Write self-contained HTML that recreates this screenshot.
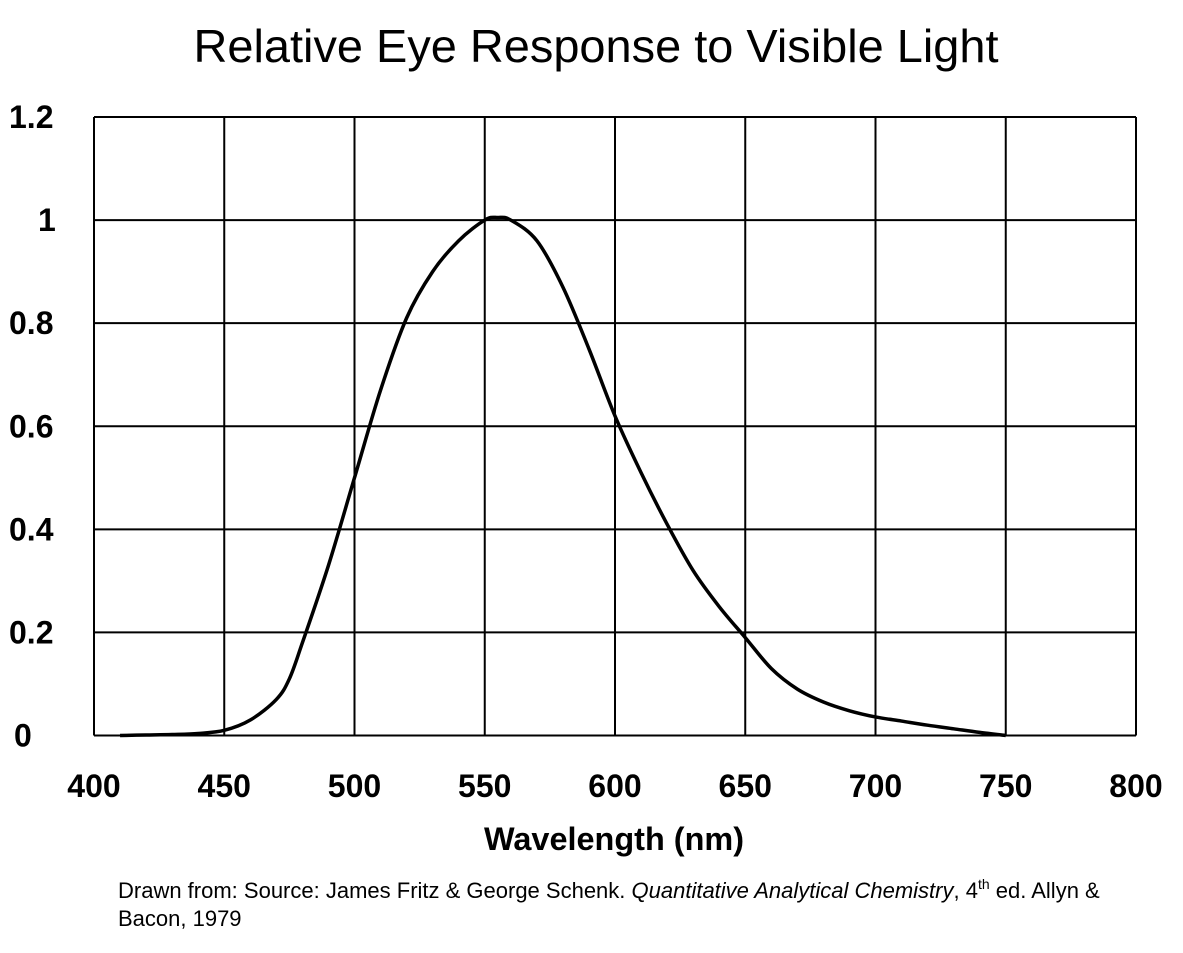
<!DOCTYPE html>
<html><head><meta charset="utf-8"><style>
body{margin:0;background:#fff;width:1183px;height:948px;overflow:hidden;font-family:"Liberation Sans",sans-serif}
</style></head><body>
<svg width="1183" height="948" id="c">
<text x="596" y="62" text-anchor="middle" font-size="46" font-family="Liberation Sans" textLength="805" lengthAdjust="spacingAndGlyphs">Relative Eye Response to Visible Light</text>
<g id="grid"></g>
<g id="xt"></g>
<g id="yt"></g>
<text x="614" y="850" text-anchor="middle" font-size="32" font-weight="bold" textLength="260" lengthAdjust="spacingAndGlyphs">Wavelength (nm)</text>
<text x="118" y="898" font-size="22">Drawn from: Source: James Fritz &amp; George Schenk. <tspan font-style="italic">Quantitative Analytical Chemistry</tspan>, 4<tspan font-size="14" dy="-9">th</tspan><tspan dy="9"> ed. Allyn &amp;</tspan></text>
<text x="118" y="926" font-size="22">Bacon, 1979</text>
</svg>
<script>
const xTicks=[400,450,500,550,600,650,700,750,800];
const yTicks=[0,0.2,0.4,0.6,0.8,1,1.2];
const yTickLabels=["0","0.2","0.4","0.6","0.8","1","1.2"];
const wavelengths=[410,420,430,440,450,460,470,475,480,490,500,510,520,530,540,550,555,560,570,580,590,600,610,620,630,640,650,660,670,680,690,700,710,720,730,740,750];
const response=[0,0.001,0.002,0.004,0.01,0.03,0.07,0.11,0.18,0.33,0.5,0.67,0.81,0.9,0.96,1.0,1.005,1.0,0.96,0.87,0.75,0.62,0.51,0.41,0.32,0.25,0.19,0.13,0.09,0.065,0.048,0.036,0.028,0.02,0.013,0.006,0];
const X=v=>94+(v-400)/400*1042;
const Y=v=>735.5-v/1.2*618.5;
const ns="http://www.w3.org/2000/svg";
const svg=document.getElementById('c');
function mk(t,a,p){const e=document.createElementNS(ns,t);for(const k in a)e.setAttribute(k,a[k]);p.appendChild(e);return e;}
const g=document.getElementById('grid'),xt=document.getElementById('xt'),yt=document.getElementById('yt');
xTicks.forEach(v=>{const l=mk('line',{x1:X(v),x2:X(v),y1:Y(1.2),y2:Y(0),stroke:'#000','stroke-width':2},g);


const t=mk('text',{x:X(v),y:797,'text-anchor':'middle','font-size':32,'font-weight':'bold'},xt);t.textContent=v;

});
yTicks.forEach((v,i)=>{const l=mk('line',{x1:X(400),x2:X(800),y1:Y(v),y2:Y(v),stroke:'#000','stroke-width':2},g);


const lab=yTickLabels[i];
const t=mk('text',{x:lab==="1"?38:(lab==="0"?14:9),y:Y(v)+11,'font-size':32,'font-weight':'bold'},yt);t.textContent=lab;

});
const pts=wavelengths.map((w,i)=>[X(w),Y(response[i])]);
let d='M'+pts[0][0]+','+pts[0][1];
for(let i=0;i<pts.length-1;i++){const p0=pts[i-1]||pts[i],p1=pts[i],p2=pts[i+1],p3=pts[i+2]||p2;
d+=' C'+(p1[0]+(p2[0]-p0[0])/6)+','+(p1[1]+(p2[1]-p0[1])/6)+' '+(p2[0]-(p3[0]-p1[0])/6)+','+(p2[1]-(p3[1]-p1[1])/6)+' '+p2[0]+','+p2[1];}
const c=mk('path',{d:d,fill:'none',stroke:'#000','stroke-width':3.5},svg);


</script>
</body></html>
